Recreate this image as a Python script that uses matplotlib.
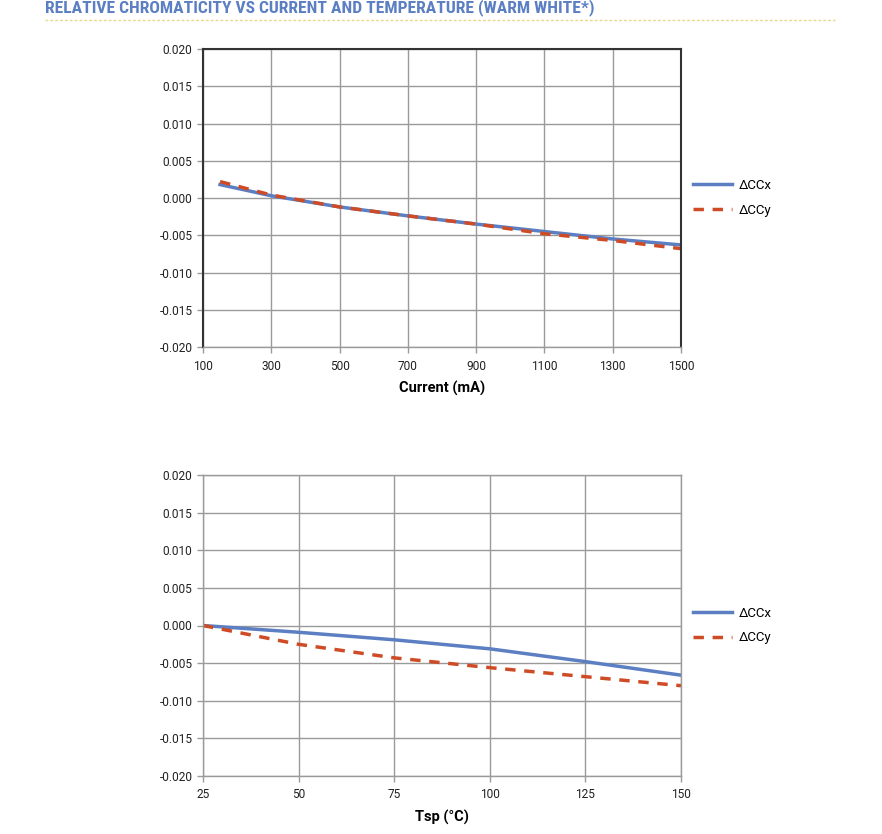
import matplotlib
matplotlib.use("Agg")
import matplotlib.pyplot as plt
from matplotlib.lines import Line2D

plt.rcParams['font.family'] = ['Roboto', 'DejaVu Sans']

title = "RELATIVE CHROMATICITY VS CURRENT AND TEMPERATURE (WARM WHITE*)"

current_ma = [150, 300, 500, 700, 900, 1100, 1300, 1500]
cur_dccx = [0.0018, 0.0003, -0.0012, -0.0024, -0.0035, -0.0045, -0.0055, -0.0063]
cur_dccy = [0.0022, 0.0004, -0.0012, -0.0024, -0.0035, -0.0048, -0.0057, -0.0068]

tsp_c = [25, 50, 75, 100, 125, 150]
tsp_dccx = [0.0, -0.0009, -0.0019, -0.0031, -0.0048, -0.0066]
tsp_dccy = [0.0, -0.0025, -0.0043, -0.0056, -0.0068, -0.0080]

y_ticks = [-0.020, -0.015, -0.010, -0.005, 0.000, 0.005, 0.010, 0.015, 0.020]
cur_ticks = [100, 300, 500, 700, 900, 1100, 1300, 1500]
tsp_ticks = [25, 50, 75, 100, 125, 150]

series_names = ["\u0394CCx", "\u0394CCy"]
blue = "#5b7fc2"
red = "#cf4b26"

W, H = 882, 834
fig = plt.figure(figsize=(W / 100, H / 100), dpi=100)

fig.text(45 / W, 1 - 8 / H, title, color="#5b7fc2", fontsize=12.6, fontweight="bold",
         va="center", ha="left", family=["Roboto Condensed", "Roboto", "DejaVu Sans"])
fig.add_artist(Line2D([45 / W, 835 / W], [1 - 20 / H, 1 - 20 / H], color="#e8d88a",
                      lw=1, ls=(0, (2, 1.5)), transform=fig.transFigure))


def make_axes(left, top, right, bottom):
    return fig.add_axes([left / W, 1 - bottom / H, (right - left) / W, (bottom - top) / H])


def style(ax, xticks, xlabel, dark_frame):
    ax.set_ylim(-0.020, 0.020)
    ax.set_yticks(y_ticks)
    ax.set_yticklabels([f"{v:.3f}" for v in y_ticks])
    ax.set_xticks(xticks)
    ax.set_xlim(xticks[0], xticks[-1])
    ax.grid(True, color="#9a9a9a", lw=1)
    ax.set_axisbelow(True)
    ax.tick_params(axis="both", labelsize=8.6, colors="#222222", length=4, width=1,
                   direction="out")
    ax.tick_params(axis="x", pad=5)
    ax.tick_params(axis="both", color="#9a9a9a")
    ax.set_xlabel(xlabel, fontsize=10.5, fontweight="bold", labelpad=6)
    for s in ax.spines.values():
        s.set_color("#9a9a9a")
        s.set_linewidth(1)
    if dark_frame:
        for k in ["top", "right", "left"]:
            ax.spines[k].set_color("#333333")
            ax.spines[k].set_linewidth(1.5)
    ax.legend(loc="center left", bbox_to_anchor=(1.0, 0.5), frameon=False, fontsize=9.5,
              handlelength=3.0, handletextpad=0.5, labelspacing=0.9)


ax1 = make_axes(203, 49, 681, 347)
ax1.plot(current_ma, cur_dccx, color=blue, lw=2.5, label=series_names[0])
ax1.plot(current_ma, cur_dccy, color=red, lw=2.5, ls=(0, (3, 2.5)), label=series_names[1])
style(ax1, cur_ticks, "Current (mA)", True)

ax2 = make_axes(203, 475, 681, 776)
ax2.plot(tsp_c, tsp_dccx, color=blue, lw=2.5, label=series_names[0])
ax2.plot(tsp_c, tsp_dccy, color=red, lw=2.5, ls=(0, (3, 2.5)), label=series_names[1])
style(ax2, tsp_ticks, "Tsp (\u00b0C)", False)

fig.savefig("out.png", dpi=100, facecolor="white")
